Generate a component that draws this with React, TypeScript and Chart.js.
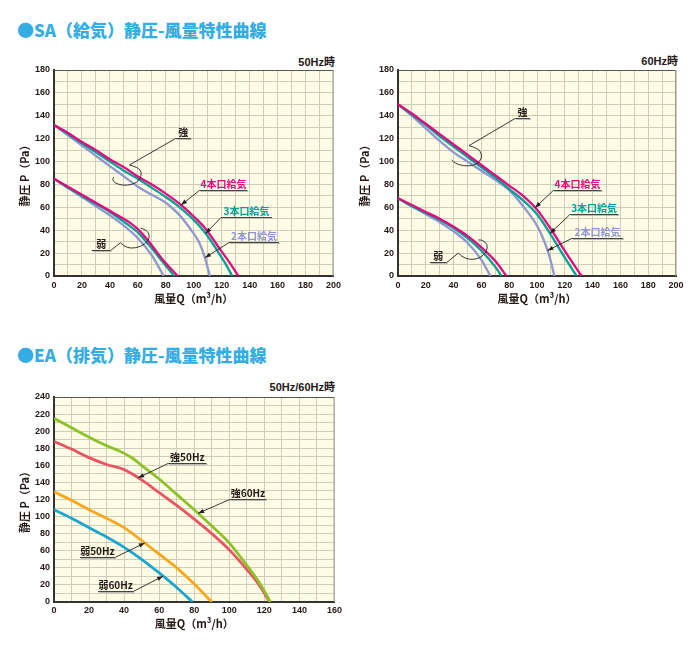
import React, { useEffect, useRef } from "react";
import { Chart, registerables } from "chart.js";

Chart.register(...registerables);

// ---------------- DATA ----------------
// SA (給気) 50Hz – strong (強)
const SA50_STRONG_4_Q = [0, 10, 20, 30, 40, 50, 60, 70, 80, 90, 100, 108, 119, 126, 132];
const SA50_STRONG_4_P = [132, 125, 117, 110, 102, 95, 87, 80, 72, 63, 52, 42, 23, 11, 0];
const SA50_STRONG_3_Q = [0, 10, 20, 30, 40, 50, 60, 70, 80, 90, 100, 108, 118, 124, 127.5];
const SA50_STRONG_3_P = [132, 124, 116, 108, 100, 92, 85, 77, 69, 60, 49, 38, 20, 8, 0];
const SA50_STRONG_2_Q = [0, 10, 20, 30, 40, 50, 60, 70, 80, 90, 94, 100, 104, 108, 111.5];
const SA50_STRONG_2_P = [132, 123, 114, 105, 96, 87, 78, 71, 64, 53, 47, 37, 29, 16, 0];
// SA 50Hz – weak (弱)
const SA50_WEAK_4_Q = [0, 10, 20, 30, 40, 47, 55, 60, 68, 78, 88.5];
const SA50_WEAK_4_P = [85, 78, 71, 64, 57, 52, 46, 41, 30, 14, 0];
const SA50_WEAK_3_Q = [0, 10, 20, 30, 40, 47, 55, 60, 68, 78, 86];
const SA50_WEAK_3_P = [85, 77, 70, 63, 56, 50, 43, 38, 27, 12, 0];
const SA50_WEAK_2_Q = [0, 10, 20, 30, 40, 50, 60, 70, 78.5];
const SA50_WEAK_2_P = [85, 77, 69, 61, 53, 44, 33, 18, 0];

// SA 60Hz – strong
const SA60_STRONG_4_Q = [0, 10, 20, 30, 40, 50, 60, 70, 80, 90, 100, 110, 121, 132];
const SA60_STRONG_4_P = [150, 142, 133, 124, 115, 106, 97, 88, 79, 70, 58, 41, 20, 0];
const SA60_STRONG_3_Q = [0, 10, 20, 30, 40, 50, 60, 70, 80, 90, 100, 109, 120, 128.5];
const SA60_STRONG_3_P = [150, 141, 132, 122, 113, 104, 95, 86, 76, 66, 54, 38, 16, 0];
const SA60_STRONG_2_Q = [0, 10, 20, 30, 40, 50, 55, 60, 70, 80, 90, 100, 105, 109, 112.5];
const SA60_STRONG_2_P = [150, 140, 129, 118, 108, 100, 96, 92, 84, 75, 61, 44, 31, 17, 0];
// SA 60Hz – weak
const SA60_WEAK_4_Q = [0, 10, 20, 30, 40, 50, 60, 70, 78];
const SA60_WEAK_4_P = [68, 62, 56, 50, 43, 35, 25, 13, 0];
const SA60_WEAK_3_Q = [0, 10, 20, 30, 40, 50, 60, 70, 74.5];
const SA60_WEAK_3_P = [68, 61, 55, 49, 42, 33, 22, 8, 0];
const SA60_WEAK_2_Q = [0, 10, 20, 30, 40, 50, 60, 66.5];
const SA60_WEAK_2_P = [68, 61, 54, 47, 39, 29, 14, 0];

// EA (排気) 50Hz/60Hz
const EA_STRONG60_Q = [0, 10, 20, 30, 40, 45, 50, 60, 70, 80, 90, 100, 110, 117, 123.5];
const EA_STRONG60_P = [215, 204, 193, 183, 174, 168, 160, 144, 126, 108, 89, 69, 43, 23, 0];
const EA_STRONG50_Q = [0, 10, 20, 30, 40, 50, 60, 70, 80, 90, 100, 110, 117, 123];
const EA_STRONG50_P = [188, 179, 169, 161, 155, 143, 128, 113, 97, 80, 61, 38, 20, 0];
const EA_WEAK50_Q = [0, 10, 20, 30, 40, 50, 60, 70, 80, 90];
const EA_WEAK50_P = [129, 119, 108, 98, 87, 72, 56, 40, 21, 0];
const EA_WEAK60_Q = [0, 10, 20, 30, 40, 50, 60, 70, 79];
const EA_WEAK60_P = [108, 98, 87, 76, 64, 50, 34, 17, 0];

// axis text
const X_TITLE = "風量Q（m³/h）";
const Y_TITLE = "静圧 P（Pa）";

// ---------------- STYLE ----------------
const MAGENTA = "#e4087e";
const TEAL = "#00a099";
const LAVENDER = "#8f96d0";
const GREEN = "#8cc227";
const RED = "#e95462";
const ORANGE = "#f6a81c";
const BLUE = "#1ca5cf";
const BG = "#fefce5";
const GRID = "#cfcdb9";
const INK = "#231815";
const HEAD = "#35ade2";
const CJK = "'Noto Sans CJK JP', sans-serif";
const NUM = "'Liberation Sans Narrow', 'Liberation Sans', Arial, sans-serif";

type Line = { q: number[]; p: number[]; color: string; width: number };
type Note = {
  text: string;
  color: string;
  q1: number;
  q2: number;
  p: number;
  from: "left" | "right";
  tipQ: number;
  tipLine?: number;
  tipP?: number;
  arrow: boolean;
  loop?: number[][];
};
type Cfg = {
  left: number;
  top: number;
  w: number;
  h: number;
  xMax: number;
  yMax: number;
  padTop: number;
  padRight: number;
  yW: number;
  xH: number;
  yTitlePad: number;
  xTitlePad: number;
  xTickPad: number;
  lines: Line[];
  notes: Note[];
};

function interp(q: number[], p: number[], x: number) {
  for (let i = 0; i < q.length - 1; i++) {
    if (x >= q[i] && x <= q[i + 1]) {
      const t = (x - q[i]) / (q[i + 1] - q[i]);
      return p[i] + t * (p[i + 1] - p[i]);
    }
  }
  return p[p.length - 1];
}

const SA50: Cfg = {
  left: 0, top: 50, w: 345, h: 260, xMax: 200, yMax: 180,
  padTop: 20, padRight: 10, yW: 54, xH: 34, yTitlePad: 18, xTitlePad: 5, xTickPad: 4,
  lines: [
    { q: SA50_STRONG_4_Q, p: SA50_STRONG_4_P, color: MAGENTA, width: 2.3 },
    { q: SA50_STRONG_3_Q, p: SA50_STRONG_3_P, color: TEAL, width: 2.3 },
    { q: SA50_STRONG_2_Q, p: SA50_STRONG_2_P, color: LAVENDER, width: 2.3 },
    { q: SA50_WEAK_4_Q, p: SA50_WEAK_4_P, color: MAGENTA, width: 2.3 },
    { q: SA50_WEAK_3_Q, p: SA50_WEAK_3_P, color: TEAL, width: 2.3 },
    { q: SA50_WEAK_2_Q, p: SA50_WEAK_2_P, color: LAVENDER, width: 2.3 },
  ],
  notes: [
    { text: "強", color: INK, q1: 87, q2: 98, p: 121, from: "left", tipQ: 54, tipP: 97, arrow: false,
      loop: [[60, 95], [63, 90.5], [61.2, 83.6], [56.4, 79.9], [49.3, 79], [43.4, 81.3], [41.8, 84.3], [42.7, 86.4]] },
    { text: "弱", color: INK, q1: 27, q2: 40.5, p: 22.7, from: "right", tipQ: 47.5, tipP: 29, arrow: false,
      loop: [[50, 26], [55, 24], [62, 25.5], [67.5, 30.5], [68.5, 36], [66, 40.2], [62, 41.7]] },
    { text: "4本口給気", color: MAGENTA, q1: 104, q2: 138.5, p: 75, from: "left", tipQ: 90.9, tipLine: 0, arrow: true },
    { text: "3本口給気", color: TEAL, q1: 119.5, q2: 156, p: 51.3, from: "left", tipQ: 108.5, tipLine: 1, arrow: true },
    { text: "2本口給気", color: LAVENDER, q1: 125.3, q2: 161, p: 29.4, from: "left", tipQ: 108, tipLine: 2, arrow: true },
  ],
};

const SA60: Cfg = {
  left: 345, top: 50, w: 345, h: 260, xMax: 200, yMax: 180,
  padTop: 20, padRight: 14, yW: 53, xH: 34, yTitlePad: 13, xTitlePad: 5, xTickPad: 4,
  lines: [
    { q: SA60_STRONG_4_Q, p: SA60_STRONG_4_P, color: MAGENTA, width: 2.3 },
    { q: SA60_STRONG_3_Q, p: SA60_STRONG_3_P, color: TEAL, width: 2.3 },
    { q: SA60_STRONG_2_Q, p: SA60_STRONG_2_P, color: LAVENDER, width: 2.3 },
    { q: SA60_WEAK_4_Q, p: SA60_WEAK_4_P, color: MAGENTA, width: 2.3 },
    { q: SA60_WEAK_3_Q, p: SA60_WEAK_3_P, color: TEAL, width: 2.3 },
    { q: SA60_WEAK_2_Q, p: SA60_WEAK_2_P, color: LAVENDER, width: 2.3 },
  ],
  notes: [
    { text: "強", color: INK, q1: 84.2, q2: 95, p: 137.8, from: "left", tipQ: 51.1, tipP: 113.9, arrow: false,
      loop: [[57.8, 111.6], [60.6, 105.7], [59, 99.9], [54.2, 96.4], [47, 96.1], [41, 98.5], [38.6, 101.4]] },
    { text: "弱", color: INK, q1: 23, q2: 35, p: 12.5, from: "right", tipQ: 43.4, tipP: 20, arrow: false,
      loop: [[45.8, 16.9], [51.8, 14], [59, 15.5], [63.8, 21.2], [64.5, 27.7], [60.6, 31.5], [57.8, 31.5]] },
    { text: "4本口給気", color: MAGENTA, q1: 111.7, q2: 146.5, p: 75.1, from: "left", tipQ: 98.6, tipLine: 0, arrow: true },
    { text: "3本口給気", color: TEAL, q1: 123.7, q2: 158.5, p: 54.2, from: "left", tipQ: 109.4, tipLine: 1, arrow: true },
    { text: "2本口給気", color: LAVENDER, q1: 125, q2: 162, p: 32.9, from: "left", tipQ: 107.5, tipLine: 2, arrow: true },
  ],
};

const EA: Cfg = {
  left: 0, top: 370, w: 345, h: 270, xMax: 160, yMax: 240,
  padTop: 27, padRight: 10, yW: 54, xH: 38, yTitlePad: 18, xTitlePad: 10, xTickPad: 3,
  lines: [
    { q: EA_STRONG60_Q, p: EA_STRONG60_P, color: GREEN, width: 2.8 },
    { q: EA_STRONG50_Q, p: EA_STRONG50_P, color: RED, width: 2.8 },
    { q: EA_WEAK50_Q, p: EA_WEAK50_P, color: ORANGE, width: 2.8 },
    { q: EA_WEAK60_Q, p: EA_WEAK60_P, color: BLUE, width: 2.8 },
  ],
  notes: [
    { text: "強50Hz", color: INK, q1: 65.1, q2: 87, p: 163.1, from: "left", tipQ: 48, tipLine: 1, arrow: true },
    { text: "強60Hz", color: INK, q1: 100.2, q2: 121.1, p: 120.6, from: "left", tipQ: 82.2, tipLine: 0, arrow: true },
    { text: "弱50Hz", color: INK, q1: 14.8, q2: 34.7, p: 53, from: "right", tipQ: 51.8, tipLine: 2, arrow: true },
    { text: "弱60Hz", color: INK, q1: 25.2, q2: 45.2, p: 13.2, from: "right", tipQ: 62.2, tipLine: 3, arrow: true },
  ],
};

function drawLine(ctx: CanvasRenderingContext2D, x1: number, y1: number, x2: number, y2: number) {
  ctx.beginPath();
  ctx.moveTo(x1, y1);
  ctx.lineTo(x2, y2);
  ctx.stroke();
}

function ChartBox({ cfg }: { cfg: Cfg }) {
  const ref = useRef<HTMLCanvasElement | null>(null);
  useEffect(() => {
    if (!ref.current) return;
    const tickFont = { family: NUM, size: 9, weight: "bold" as const };
    const titleFont = { family: CJK, size: 11, weight: "bold" as const };
    const plugin = {
      id: "frameNotes",
      beforeDraw(chart: any) {
        const { ctx, chartArea: a } = chart;
        ctx.save();
        ctx.fillStyle = BG;
        ctx.fillRect(a.left, a.top, a.right - a.left, a.bottom - a.top);
        ctx.restore();
      },
      afterDraw(chart: any) {
        const { ctx, chartArea: a } = chart;
        const xs = chart.scales.x;
        const ys = chart.scales.y;
        ctx.save();
        ctx.lineWidth = 1;
        ctx.strokeStyle = "#555";
        drawLine(ctx, a.left, a.top + 0.5, a.right, a.top + 0.5);
        ctx.strokeStyle = "#9a9a90";
        drawLine(ctx, a.right - 0.5, a.top, a.right - 0.5, a.bottom);
        for (const n of cfg.notes) {
          const x1 = xs.getPixelForValue(n.q1);
          const x2 = xs.getPixelForValue(n.q2);
          const y = Math.round(ys.getPixelForValue(n.p)) + 0.5;
          ctx.lineWidth = 1;
          ctx.strokeStyle = "#bdbdb5";
          drawLine(ctx, x1 + 1, y + 1, x2 + 1, y + 1);
          ctx.strokeStyle = "#444";
          drawLine(ctx, x1, y, x2, y);
          ctx.font = `bold 10px ${CJK}`;
          ctx.fillStyle = n.color;
          ctx.textAlign = "center";
          ctx.textBaseline = "alphabetic";
          ctx.fillText(n.text, (x1 + x2) / 2, y - 2.5);
          const sx = n.from === "left" ? x1 : x2;
          const tipP = n.tipP !== undefined ? n.tipP : interp(cfg.lines[n.tipLine!].q, cfg.lines[n.tipLine!].p, n.tipQ);
          const tx = xs.getPixelForValue(n.tipQ);
          const ty = ys.getPixelForValue(tipP);
          ctx.strokeStyle = "#222";
          ctx.lineWidth = 0.9;
          drawLine(ctx, sx, y, tx, ty);
          if (n.arrow) {
            const ang = Math.atan2(ty - y, tx - sx);
            const L = 6, W = 2.2;
            ctx.fillStyle = "#222";
            ctx.beginPath();
            ctx.moveTo(tx, ty);
            ctx.lineTo(tx - L * Math.cos(ang) + W * Math.sin(ang), ty - L * Math.sin(ang) - W * Math.cos(ang));
            ctx.lineTo(tx - L * Math.cos(ang) - W * Math.sin(ang), ty - L * Math.sin(ang) + W * Math.cos(ang));
            ctx.closePath();
            ctx.fill();
          }
          if (n.loop) {
            const pts = [[tx, ty], ...n.loop.map((d) => [xs.getPixelForValue(d[0]), ys.getPixelForValue(d[1])])];
            ctx.beginPath();
            ctx.moveTo(pts[0][0], pts[0][1]);
            for (let i = 1; i < pts.length - 1; i++) {
              const mx = (pts[i][0] + pts[i + 1][0]) / 2;
              const my = (pts[i][1] + pts[i + 1][1]) / 2;
              ctx.quadraticCurveTo(pts[i][0], pts[i][1], mx, my);
            }
            const last = pts[pts.length - 1];
            ctx.lineTo(last[0], last[1]);
            ctx.stroke();
          }
        }
        ctx.restore();
      },
    };

    const chart = new Chart(ref.current, {
      type: "line",
      data: {
        datasets: cfg.lines.map((l) => ({
          data: l.q.map((x, i) => ({ x, y: l.p[i] })),
          borderColor: l.color,
          borderWidth: l.width,
          pointRadius: 0,
          fill: false,
          cubicInterpolationMode: "monotone" as const,
        })),
      },
      options: {
        animation: false,
        responsive: false,
        maintainAspectRatio: false,
        layout: { padding: { left: 0, right: cfg.padRight, top: cfg.padTop, bottom: 0 } },
        plugins: { legend: { display: false }, tooltip: { enabled: false } },
        scales: {
          x: {
            type: "linear",
            min: 0,
            max: cfg.xMax,
            afterFit: (s: any) => {
              s.height = cfg.xH;
            },
            ticks: {
              stepSize: 10,
              autoSkip: false,
              maxRotation: 0,
              padding: cfg.xTickPad,
              font: tickFont,
              color: INK,
              callback: (v: any) => (Number(v) % 20 === 0 ? String(v) : ""),
            },
            grid: { color: GRID, drawTicks: false, lineWidth: 1 },
            border: { display: true, color: "#333", width: 2 },
            title: { display: true, text: X_TITLE, font: titleFont, color: INK, padding: { top: 0, bottom: cfg.xTitlePad } },
          },
          y: {
            type: "linear",
            min: 0,
            max: cfg.yMax,
            afterFit: (s: any) => {
              s.width = cfg.yW;
            },
            ticks: {
              stepSize: 10,
              autoSkip: false,
              padding: 4,
              font: tickFont,
              color: INK,
              callback: (v: any) => (Number(v) % 20 === 0 ? String(v) : ""),
            },
            grid: { color: GRID, drawTicks: false, lineWidth: 1 },
            border: { display: true, color: "#333", width: 2 },
            title: { display: true, text: Y_TITLE, font: titleFont, color: INK, padding: { top: cfg.yTitlePad, bottom: 0 } },
          },
        },
      },
      plugins: [plugin],
    } as any);
    return () => chart.destroy();
  }, [cfg]);
  return (
    <canvas
      ref={ref}
      width={cfg.w}
      height={cfg.h}
      style={{ position: "absolute", left: cfg.left, top: cfg.top, width: cfg.w, height: cfg.h }}
    />
  );
}

const headStyle: React.CSSProperties = {
  position: "absolute",
  left: 17,
  fontFamily: CJK,
  fontWeight: 900,
  fontSize: 17,
  lineHeight: "20px",
  color: HEAD,
  whiteSpace: "nowrap",
};
const subStyle: React.CSSProperties = {
  position: "absolute",
  fontFamily: `'Liberation Sans', ${CJK}`,
  fontWeight: 700,
  fontSize: 11,
  lineHeight: "14px",
  color: INK,
  whiteSpace: "nowrap",
  textAlign: "right",
};

export default function App() {
  return (
    <div style={{ position: "absolute", left: 0, top: 0, width: 700, height: 650, background: "#fff", overflow: "hidden" }}>
      <div style={{ ...headStyle, top: 20 }}>●SA（給気）静圧-風量特性曲線</div>
      <div style={{ ...subStyle, right: 365, top: 55 }}>50Hz時</div>
      <div style={{ ...subStyle, right: 22, top: 54 }}>60Hz時</div>
      <ChartBox cfg={SA50} />
      <ChartBox cfg={SA60} />
      <div style={{ ...headStyle, top: 345 }}>●EA（排気）静圧-風量特性曲線</div>
      <div style={{ ...subStyle, right: 365, top: 380 }}>50Hz/60Hz時</div>
      <ChartBox cfg={EA} />
    </div>
  );
}
